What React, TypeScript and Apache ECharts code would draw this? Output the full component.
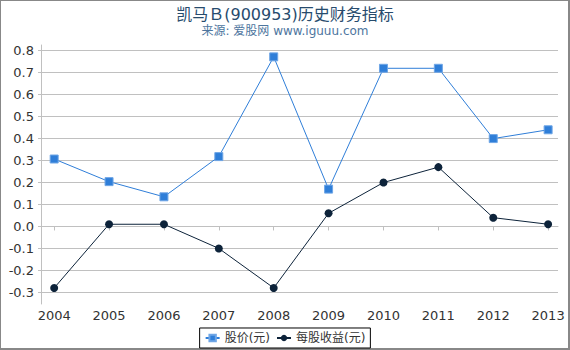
import React, { useEffect, useRef } from "react";
import * as echarts from "echarts";

const years = [2004, 2005, 2006, 2007, 2008, 2009, 2010, 2011, 2012, 2013];
const price = [0.307, 0.204, 0.135, 0.318, 0.772, 0.17, 0.72, 0.72, 0.4, 0.44];
const eps = [-0.28, 0.01, 0.01, -0.1, -0.28, 0.06, 0.2, 0.27, 0.04, 0.01];
const yTicks = [-0.3, -0.2, -0.1, 0, 0.1, 0.2, 0.3, 0.4, 0.5, 0.6, 0.7, 0.8];

const FONT = "'DejaVu Sans', 'Noto Sans CJK SC', sans-serif";

export default function App() {
  const ref = useRef<HTMLDivElement>(null);
  useEffect(() => {
    if (!ref.current) return;
    const chart = echarts.init(ref.current, null, { renderer: "svg" });
    chart.setOption({
      animation: false,
      backgroundColor: "#fff",
      textStyle: { fontFamily: FONT },
      title: {
        text: "凯马Ｂ(900953)历史财务指标",
        subtext: "来源: 爱股网 www.iguuu.com",
        left: "center",
        top: 1,
        itemGap: 3,
        textStyle: { fontSize: 16, fontWeight: "normal", color: "#274b6d", fontFamily: FONT },
        subtextStyle: { fontSize: 12, color: "#4d759e", fontFamily: FONT },
      },
      graphic: [
        {
          type: "rect",
          shape: { x: 0, y: 0, width: 569, height: 349 },
          style: { fill: "none", stroke: "#888", lineWidth: 2 },
          silent: true,
        },
      ],
      legend: {
        bottom: 2,
        left: "center",
        padding: [4, 5, 4, 5],
        borderColor: "#000",
        borderWidth: 1,
        borderRadius: 0,
        itemWidth: 14,
        itemHeight: 8,
        itemGap: 6,
        textStyle: { fontSize: 12, color: "#333", fontFamily: FONT },
        data: ["股价(元)", "每股收益(元)"],
      },
      grid: { left: 41, right: 12, top: 45, bottom: 46 },
      xAxis: {
        type: "value",
        min: 2003.76,
        max: 2013.18,
        splitLine: { show: false },
        axisLine: { show: true, lineStyle: { color: "#c0c0c0" } },
        axisTick: { show: true, length: 4, customValues: years, lineStyle: { color: "#c0c0c0" } },
        axisLabel: {
          customValues: years,
          fontSize: 13,
          color: "#333",
          margin: 5,
          formatter: (v: number) => String(v),
        },
      },
      yAxis: {
        type: "value",
        min: -0.353,
        max: 0.826,
        axisLine: { show: true, lineStyle: { color: "#c0c0c0" } },
        axisTick: { show: true, length: 3, customValues: yTicks, lineStyle: { color: "#c0c0c0" } },
        splitLine: { show: true, lineStyle: { color: "#c0c0c0" } },
        axisLabel: {
          customValues: yTicks,
          fontSize: 13,
          color: "#333",
          margin: 7,
          formatter: (v: number) => v.toFixed(1),
        },
      },
      series: [
        {
          name: "股价(元)",
          type: "line",
          data: years.map((y, i) => [y, price[i]]),
          symbol: "rect",
          symbolSize: 8,
          lineStyle: { color: "#2f7ed8", width: 1 },
          itemStyle: { color: "#2f7ed8", borderColor: "#6fa6e6", borderWidth: 1 },
        },
        {
          name: "每股收益(元)",
          type: "line",
          data: years.map((y, i) => [y, eps[i]]),
          symbol: "circle",
          symbolSize: 8,
          lineStyle: { color: "#0d233a", width: 1 },
          itemStyle: { color: "#0d233a" },
        },
      ],
    });
    return () => chart.dispose();
  }, []);
  return (
    <div
      ref={ref}
      style={{ position: "fixed", left: 0, top: 0, width: 570, height: 350 }}
    />
  );
}
